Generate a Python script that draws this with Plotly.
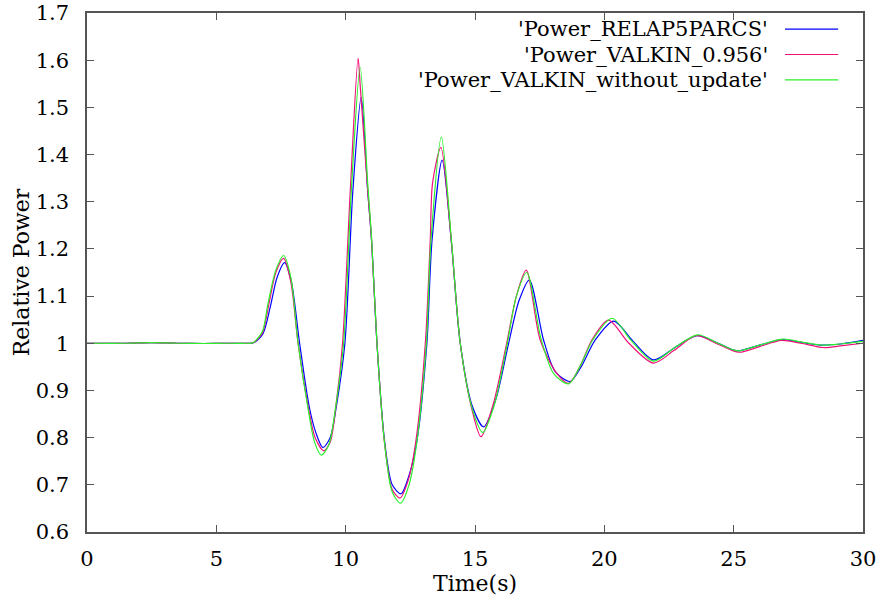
import plotly.graph_objects as go

# ---- data ----
t_relap = [0, 1.5, 2.5, 3.5, 4.5, 5.5, 6.2, 6.44, 6.8, 7.09, 7.35, 7.64, 7.9, 8.22, 8.59, 8.85, 9.12,
           9.4, 9.64, 9.97, 10.28, 10.6, 10.85, 11.0, 11.21, 11.5, 11.8, 12.14, 12.45, 12.76, 13.14,
           13.34, 13.73, 14.08, 14.43, 14.9, 15.33, 15.8, 16.3, 16.7, 17.1, 17.65, 18.1, 18.68,
           19.1, 19.65, 20.36, 21.1, 21.9, 22.7, 23.58, 24.4, 25.13, 26.0, 26.87, 27.6, 28.35, 29.2, 30]
p_relap = [1.0, 1.0, 1.0015, 1.0, 0.9995, 1.0, 1.0, 1.001, 1.02, 1.078, 1.14, 1.171, 1.13, 1.0, 0.866, 0.81, 0.779,
           0.80, 0.866, 1.0, 1.325, 1.521, 1.325, 1.219, 1.0, 0.795, 0.70, 0.681, 0.72, 0.795, 1.0,
           1.219, 1.388, 1.219, 1.0, 0.866, 0.823, 0.88, 1.0, 1.09, 1.134, 1.007, 0.94, 0.919,
           0.95, 1.007, 1.047, 1.005, 0.965, 0.99, 1.016, 1.0, 0.984, 0.996, 1.008, 1.002, 0.996, 0.999, 1.006]

t_valkin = [0, 1.5, 2.5, 3.5, 4.5, 5.5, 6.2, 6.42, 6.78, 7.02, 7.3, 7.6, 7.88, 8.16, 8.55, 8.82, 9.15,
            9.4, 9.62, 9.88, 10.18, 10.48, 10.57, 10.85, 11.0, 11.21, 11.5, 11.8, 12.1, 12.42, 12.72,
            13.08, 13.27, 13.36, 13.68, 14.08, 14.43, 14.88, 15.23, 15.7, 16.21, 16.6, 16.98, 17.52,
            18.14, 18.62, 19.05, 19.52, 20.16, 20.95, 21.9, 22.7, 23.55, 24.4, 25.2, 26.0, 26.85,
            27.6, 28.47, 29.2, 30]
p_valkin = [1.0, 1.0, 1.0015, 1.0, 0.9995, 1.0, 1.0, 1.001, 1.022, 1.08, 1.15, 1.18, 1.13, 1.0, 0.866, 0.80, 0.772,
            0.79, 0.866, 1.0, 1.325, 1.604, 1.54, 1.325, 1.219, 1.0, 0.79, 0.69, 0.672, 0.71, 0.795,
            1.0, 1.219, 1.34, 1.415, 1.219, 1.0, 0.86, 0.802, 0.87, 0.996, 1.1, 1.155, 1.007,
            0.938, 0.915, 0.95, 1.007, 1.049, 1.0, 0.958, 0.985, 1.016, 0.998, 0.981, 0.993, 1.006,
            1.0, 0.991, 0.995, 1.0]

t_noupd = [0, 1.5, 2.5, 3.5, 4.5, 5.5, 6.2, 6.42, 6.78, 7.0, 7.3, 7.6, 7.88, 8.16, 8.55, 8.8, 9.06,
           9.35, 9.6, 9.92, 10.22, 10.56, 10.85, 11.0, 11.21, 11.5, 11.8, 12.12, 12.45, 12.75, 13.12,
           13.3, 13.7, 14.08, 14.43, 14.9, 15.3, 15.75, 16.25, 16.6, 17.0, 17.55, 18.05, 18.62,
           19.05, 19.55, 20.3, 21.05, 21.9, 22.7, 23.6, 24.4, 25.15, 26.0, 26.9, 27.6, 28.4, 29.2, 30]
p_noupd = [1.0, 1.0, 1.0015, 1.0, 0.9995, 1.0, 1.0, 1.001, 1.025, 1.085, 1.155, 1.186, 1.14, 1.0, 0.86, 0.79, 0.763,
           0.785, 0.86, 1.0, 1.325, 1.585, 1.34, 1.225, 1.0, 0.79, 0.685, 0.661, 0.70, 0.79, 1.0,
           1.22, 1.437, 1.225, 1.0, 0.86, 0.811, 0.87, 1.0, 1.1, 1.150, 1.01, 0.935, 0.914,
           0.95, 1.007, 1.053, 1.005, 0.962, 0.99, 1.018, 1.0, 0.984, 0.996, 1.009, 1.003, 0.996, 0.999, 1.004]

series_names = ["'Power_RELAP5PARCS'", "'Power_VALKIN_0.956'", "'Power_VALKIN_without_update'"]
series_colors = ["#0000ff", "#f0107a", "#2af02a"]

x_ticks = [0, 5, 10, 15, 20, 25, 30]
y_ticks = [0.6, 0.7, 0.8, 0.9, 1.0, 1.1, 1.2, 1.3, 1.4, 1.5, 1.6, 1.7]
y_tick_text = ["0.6", "0.7", "0.8", "0.9", "1", "1.1", "1.2", "1.3", "1.4", "1.5", "1.6", "1.7"]

FONT = "'DejaVu Serif', serif"

fig = go.Figure()
for tx, py, name, col in zip([t_relap, t_valkin, t_noupd], [p_relap, p_valkin, p_noupd],
                             series_names, series_colors):
    fig.add_trace(go.Scatter(x=tx, y=py, mode="lines", name=name,
                             line=dict(color=col, width=1.2, shape="spline", smoothing=0.8),
                             showlegend=False))

# gnuplot-style key: right-aligned text with the line sample on the right
key_y = [0.969, 0.920, 0.871]
for name, col, ky in zip(series_names, series_colors, key_y):
    fig.add_annotation(x=0.880, y=ky, xref="paper", yref="paper", text=name, showarrow=False,
                       xanchor="right", yanchor="middle", font=dict(family=FONT, size=21, color="black"))
    fig.add_shape(type="line", xref="paper", yref="paper", x0=0.8995, x1=0.968, y0=ky, y1=ky,
                  line=dict(color=col, width=1.2))

axis_common = dict(showline=True, linecolor="#555555", linewidth=1.5, mirror="ticks",
                   ticks="inside", ticklen=7, tickcolor="#555555", tickwidth=1, automargin=False,
                   ticklabeloverflow="allow", showgrid=False, zeroline=False,
                   tickfont=dict(family=FONT, size=21, color="black"))

fig.update_layout(
    width=883, height=603,
    margin=dict(l=87, r=20, t=13, b=71),
    paper_bgcolor="white", plot_bgcolor="white",
    font=dict(family=FONT, size=21, color="black"),
    xaxis=dict(range=[0, 30], tickvals=x_ticks, ticklabelstandoff=7,
               title=dict(text="Time(s)", font=dict(family=FONT, size=22), standoff=4),
               **axis_common),
    yaxis=dict(range=[0.6, 1.7], tickvals=y_ticks, ticktext=y_tick_text, ticklabelstandoff=12,
               title=dict(text="Relative Power", font=dict(family=FONT, size=22), standoff=0),
               **axis_common),
)

fig.write_html("out.html")
